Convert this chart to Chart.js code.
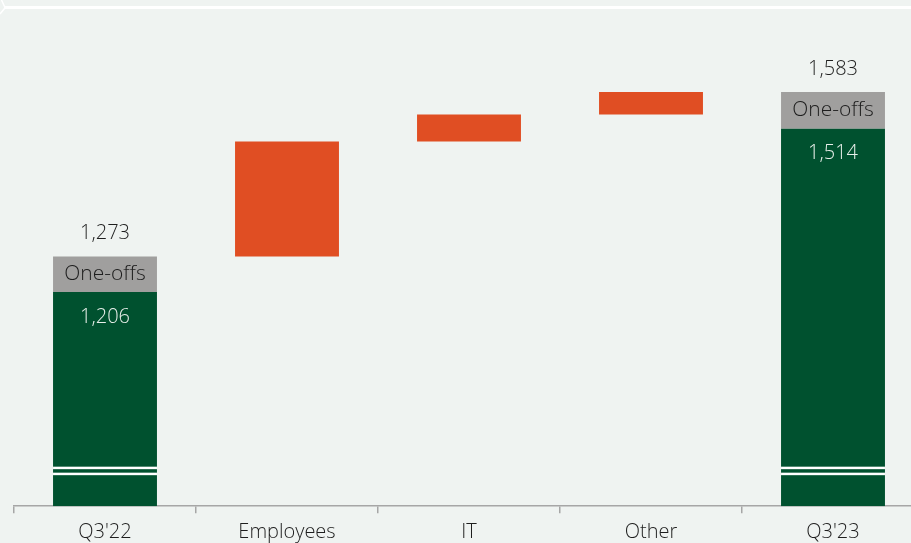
<!DOCTYPE html>
<html>
<head>
<meta charset="utf-8">
<script src="https://cdn.jsdelivr.net/npm/chart.js@4.4.0/dist/chart.umd.min.js"></script>
<style>
  html, body { margin: 0; padding: 0; background: #eff3f1; overflow: hidden; }
  #wrap { position: relative; width: 911px; height: 543px; overflow: hidden; }
  canvas { display: block; }
</style>
</head>
<body>
<div id="wrap"><canvas id="chart" width="930" height="553"></canvas></div>
<script>
// Operating expenses bridge, Q3'22 -> Q3'23
const categories = ["Q3'22", "Employees", "IT", "Other", "Q3'23"];
const underlying = [1206, null, null, null, 1514];   // excl. one-offs
const totals     = [1273, null, null, null, 1583];   // incl. one-offs
const changes    = [null, 217, 51, 42, null];        // step changes
const oneOffLabel = "One-offs";
const axisFloor = 802;   // axis is broken below the bars
const axisTop = 1719;
const breakValue = 869;  // where the break marks sit on the end bars

const GREEN = '#00512f', GREY = '#a09f9e', ORANGE = '#e04e23';

const greenData = underlying.map(v => v == null ? null : [axisFloor, v]);
const greyData = underlying.map((v, i) => v == null ? null : [v, totals[i]]);
let running = totals[0];
const orangeData = changes.map(c => {
  if (c == null) return null;
  const seg = [running, running + c];
  running += c;
  return seg;
});

const fmt = v => v.toLocaleString('en-US');
const FONT = '"Open Sans", sans-serif';

const decor = {
  id: 'decor',
  beforeDraw(chart) {
    const ctx = chart.ctx;
    ctx.save();
    ctx.strokeStyle = '#ffffff';
    ctx.lineWidth = 3;
    ctx.beginPath();
    ctx.moveTo(4, 7.5);
    ctx.lineTo(chart.width, 7.5);
    ctx.stroke();
    ctx.lineWidth = 1.5;
    ctx.beginPath();
    ctx.moveTo(1.5, 0);
    ctx.lineTo(4.5, 6.5);
    ctx.moveTo(4.5, 8.5);
    ctx.lineTo(0, 14);
    ctx.stroke();
    ctx.restore();
  }
};

const barLabels = {
  id: 'barLabels',
  afterDatasetsDraw(chart) {
    const ctx = chart.ctx;
    const y = chart.scales.y;
    const greenMeta = chart.getDatasetMeta(0);
    ctx.save();
    ctx.textAlign = 'center';
    ctx.textBaseline = 'middle';
    greenMeta.data.forEach((bar, i) => {
      if (underlying[i] == null) return;
      const left = bar.x - bar.width / 2;
      // axis break marks
      const yb = y.getPixelForValue(breakValue);
      ctx.fillStyle = '#ffffff';
      ctx.fillRect(left, yb - 4, bar.width, 2.5);
      ctx.fillRect(left, yb + 2, bar.width, 2.5);

      const yTot = y.getPixelForValue(totals[i]);
      const yUnd = y.getPixelForValue(underlying[i]);
      ctx.font = '300 20px ' + FONT;
      ctx.fillStyle = '#1e1e1e';
      ctx.fillText(fmt(totals[i]), bar.x, yTot - 23);
      ctx.font = '300 21px ' + FONT;
      ctx.fillText(oneOffLabel, bar.x, (yTot + yUnd) / 2);
      ctx.font = '300 20px ' + FONT;
      ctx.fillStyle = '#e8efea';
      ctx.fillText(fmt(underlying[i]), bar.x, yUnd + 25);
    });
    ctx.restore();
  }
};

const common = { grouped: false, borderWidth: 0, categoryPercentage: 1, barPercentage: 0.571 };

new Chart(document.getElementById('chart'), {
  type: 'bar',
  data: {
    labels: categories,
    datasets: [
      Object.assign({ label: 'Underlying', data: greenData, backgroundColor: GREEN }, common),
      Object.assign({ label: 'One-offs', data: greyData, backgroundColor: GREY }, common),
      Object.assign({ label: 'Change', data: orangeData, backgroundColor: ORANGE }, common)
    ]
  },
  options: {
    responsive: false,
    animation: false,
    events: [],
    layout: { padding: { left: 14, right: 6, top: 20, bottom: 1 } },
    plugins: { legend: { display: false }, tooltip: { enabled: false } },
    scales: {
      x: {
        offset: true,
        grid: { display: true, drawOnChartArea: false, offset: true, tickLength: 7, color: '#a6a6a6', lineWidth: 1.5 },
        border: { display: true, color: '#a6a6a6', width: 1.5 },
        ticks: { color: '#1e1e1e', font: { family: FONT, size: 20, weight: '300', lineHeight: 1.14 }, padding: 8 }
      },
      y: {
        display: false,
        min: axisFloor,
        max: axisTop
      }
    }
  },
  plugins: [decor, barLabels]
});
</script>
</body>
</html>
